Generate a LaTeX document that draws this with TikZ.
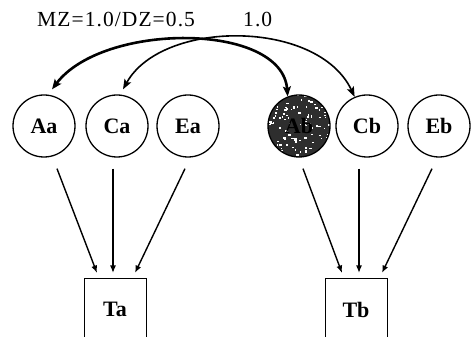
\documentclass[tikz,border=0pt]{standalone}
\usepackage{fontspec}
\setmainfont{Liberation Serif}
\newfontfamily\topfont[LetterSpace=5]{Liberation Serif}
\usetikzlibrary{arrows.meta,calc}
\begin{document}
\begin{tikzpicture}[x=1pt,y=1pt,
  ball/.style={circle,draw,line width=1.3pt,minimum size=62pt,inner sep=0pt,
    font=\fontsize{22}{22}\selectfont\bfseries},
  tbox/.style={rectangle,draw,line width=1pt,minimum width=62pt,minimum height=62pt,
    inner sep=0pt,anchor=north,font=\fontsize{22}{22}\selectfont\bfseries},
  lbl/.style={anchor=base west,inner sep=0pt,font=\fontsize{21.5}{21.5}\selectfont\topfont},
  arr/.style={-{Latex[length=7.5pt,width=6pt]},line width=1.4pt},
  thickarc/.style={{Stealth[length=10pt,width=8pt,inset=2pt]}-{Stealth[length=10pt,width=8pt,inset=2pt]},line width=2.6pt},
  thinarc/.style={{Stealth[length=10pt,width=7.5pt,inset=2pt]}-{Stealth[length=10pt,width=7.5pt,inset=2pt]},line width=1.6pt},
  dark/.style={fill=black!82,
    path picture={\pgfmathsetseed{11}
      \foreach \i in {1,...,110}{
        \fill[white] ($(path picture bounding box.center)+(rand*30pt,rand*30pt)$)
          rectangle +(0.8pt+rnd*2.2pt,0.8pt+rnd*1.6pt);}}}
]
\useasboundingbox (0,0) rectangle (474,337);
\clip (0,0) rectangle (474,337);

% labels
\node[lbl] (lmz) at (37,310.3) {MZ=1.0/DZ=0.5};
\node[lbl] (lone) at (243,310.3) {1.0};

% circles
\node[ball] (Aa) at (44,211) {Aa};
\node[ball] (Ca) at (117,211) {Ca};
\node[ball] (Ea) at (188,211) {Ea};
\node[ball,dark] (Ab) at (299,211) {Ab};
\node[ball] (Cb) at (367,211) {Cb};
\node[ball] (Eb) at (439,211) {Eb};

% boxes
\node[tbox] (Ta) at (115,59) {Ta};
\node[tbox] (Tb) at (356,59) {Tb};

% arrows to boxes
\draw[arr] ([shift={(13,-11)}]Aa.south) -- ([shift={(-18,5)}]Ta.north);
\draw[arr] ([shift={(-4,-11)}]Ca.south) -- ([shift={(-2,5)}]Ta.north);
\draw[arr] ([shift={(-3,-11)}]Ea.south) -- ([shift={(20,5)}]Ta.north);
\draw[arr] ([shift={(4,-11)}]Ab.south) -- ([shift={(-14,5)}]Tb.north);
\draw[arr] ([shift={(-8,-11)}]Cb.south) -- ([shift={(3,5)}]Tb.north);
\draw[arr] ([shift={(-7,-11)}]Eb.south) -- ([shift={(26,5)}]Tb.north);

% arcs
\draw[thickarc] ([shift={(8,5)}]Aa.north) .. controls (103,315) and (282,315) .. (Ab.111);
\draw[thinarc] ([shift={(6,5)}]Ca.north) .. controls (162,318) and (318,318) .. (Cb.113);
\end{tikzpicture}
\end{document}
